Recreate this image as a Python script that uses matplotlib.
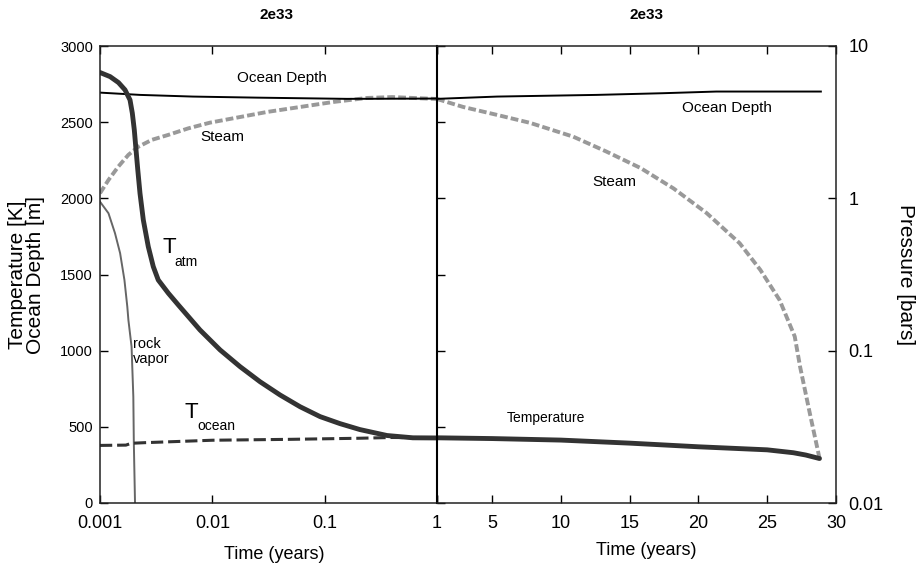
import matplotlib
matplotlib.use("Agg")
import matplotlib.pyplot as plt
from matplotlib.ticker import NullLocator, FixedLocator, FixedFormatter

plt.rcParams['font.family'] = ['Liberation Sans', 'DejaVu Sans']

# ---- early phase (log time axis, years) ----
t_atm_time = [0.001, 0.00123, 0.00146, 0.00167, 0.00185, 0.00194, 0.00202, 0.00208,
              0.00217, 0.00227, 0.00243, 0.00269, 0.00298, 0.0033, 0.00406, 0.00498,
              0.00776, 0.01172, 0.01766, 0.0266, 0.0401, 0.0604, 0.0911, 0.137,
              0.206, 0.359, 0.61, 1.0]
t_atm_temp = [2826, 2799, 2760, 2712, 2646, 2559, 2449, 2340,
              2186, 2033, 1858, 1683, 1552, 1464, 1377, 1300,
              1136, 1005, 895, 796, 709, 632, 567, 521,
              482, 443, 428, 427]

t_ocean_time = [0.001, 0.0017, 0.0019, 0.0025, 0.01, 0.05, 0.2, 0.4, 1.0]
t_ocean_temp = [378, 380, 392, 396, 412, 418, 425, 430, 428]

depth_time_early = [0.001, 0.00227, 0.0067, 0.025, 0.158, 1.0]
depth_early = [2694, 2679, 2668, 2661, 2653, 2655]

steam_time_early = [0.001, 0.00119, 0.00146, 0.00179, 0.00219, 0.00289, 0.00406, 0.00611,
                    0.00955, 0.0307, 0.119, 0.238, 0.4, 1.0]
steam_early = [1.08, 1.32, 1.62, 1.93, 2.18, 2.42, 2.61, 2.88,
               3.14, 3.69, 4.29, 4.56, 4.62, 4.49]

rock_time = [0.001, 0.00119, 0.00136, 0.00151, 0.00165, 0.00175, 0.00179, 0.00191,
             0.00198, 0.002, 0.00205]
rock_temp = [1978, 1902, 1771, 1640, 1464, 1289, 1201, 1026, 698, 400, 0]

# ---- late phase (linear time axis, years) ----
temp_time_late = [1, 5, 10, 15, 20, 25, 26.9, 27.8, 28.8]
temp_late = [428, 423, 413, 393, 369, 349, 330, 315, 292]

depth_time_late = [1, 5.36, 12.6, 17.4, 21.3, 28.9]
depth_late = [2653, 2668, 2679, 2690, 2701, 2701]

steam_time_late = [1, 2.9, 5.36, 7.76, 10.9, 13.3, 15.8, 18.2, 20.6, 23.0, 24.5, 25.9,
                   27.0, 27.4, 28.1, 28.8]
steam_late = [4.49, 3.98, 3.53, 3.13, 2.54, 2.03, 1.58, 1.16, 0.80, 0.507, 0.339, 0.215,
              0.124, 0.0776, 0.0387, 0.0197]

temp_ticks = [0, 500, 1000, 1500, 2000, 2500, 3000]
pressure_ticks = [0.01, 0.1, 1, 10]
pressure_labels = ['0.01', '0.1', '1', '10']

dark = '#333333'
grey = '#999999'

fig = plt.figure(figsize=(9.24, 5.7), dpi=100)
bottom = 1 - 503 / 570
height = 457 / 570
ax1 = fig.add_axes([100 / 924, bottom, 337 / 924, height])
ax2 = fig.add_axes([437 / 924, bottom, 399 / 924, height])

# twin pressure axes
p1 = ax1.twinx()
p2 = ax2.twinx()
for a, p in [(ax1, p1), (ax2, p2)]:
    a.set_zorder(p.get_zorder() + 1)
    a.patch.set_visible(False)
    p.set_yscale('log')
    p.set_ylim(0.01, 10)
    p.yaxis.set_minor_locator(NullLocator())
    for s in p.spines.values():
        s.set_visible(False)

# left panel
ax1.set_xscale('log')
ax1.set_xlim(0.001, 1)
ax1.set_ylim(0, 3000)
ax1.plot(rock_time, rock_temp, color='#666666', lw=1.4)
ax1.plot(t_ocean_time, t_ocean_temp, color=dark, lw=2.2, dashes=(4, 1.6))
ax1.plot(depth_time_early, depth_early, color='black', lw=1.4)
ax1.plot(t_atm_time, t_atm_temp, color=dark, lw=3.5, solid_capstyle='round',
         solid_joinstyle='round')
p1.plot(steam_time_early, steam_early, color=grey, lw=2.8, dashes=(2.0, 0.8))

ax1.xaxis.set_major_locator(FixedLocator([0.001, 0.01, 0.1, 1]))
ax1.xaxis.set_major_formatter(FixedFormatter(['0.001', '0.01', '0.1', '1']))
ax1.xaxis.set_minor_locator(NullLocator())
ax1.set_yticks(temp_ticks)
ax1.tick_params(axis='x', direction='in', top=True, length=6, width=1, labelsize=13, pad=9)
ax1.tick_params(axis='y', direction='in', left=True, right=False, length=6, width=1,
                labelsize=10.5, pad=5)
p1.tick_params(axis='y', which='both', right=False, labelright=False)
ax1.spines['right'].set_visible(False)

ax1.set_ylabel('Temperature [K]\nOcean Depth [m]', fontsize=15, linespacing=0.95, va='center')
ax1.yaxis.set_label_coords(-0.217, 0.5)
ax1.set_xlabel('Time (years)', fontsize=13, va='center')
ax1.xaxis.set_label_coords(0.516, -0.112)
ax1.text(0.523, 1.068, '2e33', transform=ax1.transAxes, ha='center', va='center',
         fontsize=11, fontweight='bold')

ax1.text(0.540, 0.930, 'Ocean Depth', transform=ax1.transAxes, ha='center', va='center', fontsize=11)
ax1.text(0.362, 0.801, 'Steam', transform=ax1.transAxes, ha='center', va='center', fontsize=11)
ax1.text(0.184, 0.560, 'T', transform=ax1.transAxes, ha='left', va='center', fontsize=16)
ax1.text(0.220, 0.528, 'atm', transform=ax1.transAxes, ha='left', va='center', fontsize=10)
ax1.text(0.098, 0.332, 'rock\nvapor', transform=ax1.transAxes, ha='left', va='center',
         fontsize=10.5, linespacing=1.05)
ax1.text(0.252, 0.197, 'T', transform=ax1.transAxes, ha='left', va='center', fontsize=16)
ax1.text(0.288, 0.168, 'ocean', transform=ax1.transAxes, ha='left', va='center', fontsize=10)

# right panel
ax2.set_xlim(1, 30)
ax2.set_ylim(0, 3000)
ax2.plot(depth_time_late, depth_late, color='black', lw=1.4)
ax2.plot(temp_time_late, temp_late, color=dark, lw=3.5, solid_capstyle='round',
         solid_joinstyle='round')
p2.plot(steam_time_late, steam_late, color=grey, lw=2.8, dashes=(2.0, 0.8))

ax2.set_xticks([1, 5, 10, 15, 20, 25, 30])
ax2.set_xticklabels(['', '5', '10', '15', '20', '25', '30'])
ax2.set_yticks(temp_ticks)
ax2.tick_params(axis='x', direction='in', top=True, length=6, width=1, labelsize=13, pad=9)
ax2.tick_params(axis='y', direction='in', left=True, right=False, labelleft=False,
                length=6, width=1)
ax2.spines['left'].set_linewidth(1.5)
ax2.spines['left'].set_color('black')

p2.yaxis.set_major_locator(FixedLocator(pressure_ticks))
p2.yaxis.set_major_formatter(FixedFormatter(pressure_labels))
p2.tick_params(axis='y', which='major', direction='in', right=True, length=6, width=1,
               labelsize=13, pad=9)
p2.set_ylabel('Pressure [bars]', fontsize=15, rotation=-90, va='center')
p2.yaxis.set_label_coords(1.173, 0.5)

ax2.set_xlabel('Time (years)', fontsize=13, va='center')
ax2.xaxis.set_label_coords(0.524, -0.105)
ax2.text(0.524, 1.068, '2e33', transform=ax2.transAxes, ha='center', va='center',
         fontsize=11, fontweight='bold')
ax2.text(0.727, 0.864, 'Ocean Depth', transform=ax2.transAxes, ha='center', va='center', fontsize=11)
ax2.text(0.444, 0.702, 'Steam', transform=ax2.transAxes, ha='center', va='center', fontsize=11)
ax2.text(0.273, 0.186, 'Temperature', transform=ax2.transAxes, ha='center', va='center', fontsize=10)

for a in (ax1, ax2):
    for s in ['top', 'bottom', 'left', 'right']:
        if a.spines[s].get_visible() and not (a is ax2 and s == 'left'):
            a.spines[s].set_linewidth(1.1)
            a.spines[s].set_color('#222222')

fig.savefig('out.png', dpi=100)
